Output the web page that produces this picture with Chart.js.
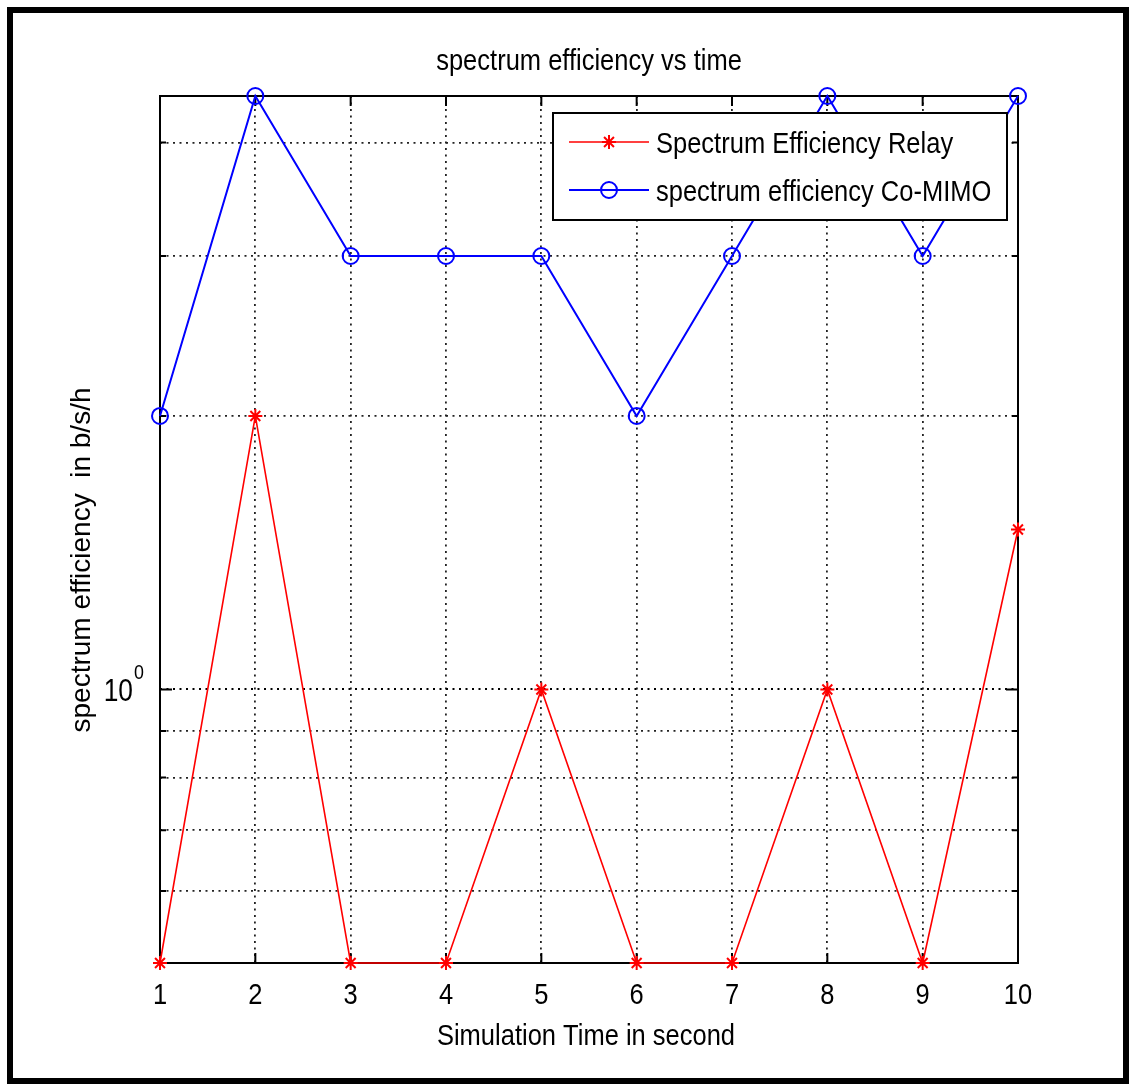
<!DOCTYPE html>
<html>
<head>
<meta charset="utf-8">
<title>spectrum efficiency vs time</title>
<script src="https://cdn.jsdelivr.net/npm/chart.js@4.4.1/dist/chart.umd.min.js"></script>
<style>
  html, body { margin: 0; padding: 0; background: #fff; }
  #chart { display: block; }
</style>
</head>
<body>
<canvas id="chart" width="1129" height="1084"></canvas>
<script>
// ---- data ----
const timeSteps = [1, 2, 3, 4, 5, 6, 7, 8, 9, 10];
const relayEff = [0.5, 2, 0.5, 0.5, 1, 0.5, 0.5, 1, 0.5, 1.5];
const coMimoEff = [2, 4.5, 3, 3, 3, 2, 3, 4.5, 3, 4.5];

const xTicks = [1, 2, 3, 4, 5, 6, 7, 8, 9, 10];
const xTickLabels = ['1', '2', '3', '4', '5', '6', '7', '8', '9', '10'];
const yGridValues = [0.5, 0.6, 0.7, 0.8, 0.9, 1, 2, 3, 4, 4.5];
const yMajorValues = [1];
const yTickBase = ['10'];
const yTickExp = ['0'];

const titleText = 'spectrum efficiency vs time';
const xTitleText = 'Simulation Time in second';
const yTitleText = 'spectrum efficiency  in b/s/h';

// MATLAB text is a narrow helvetica: use the narrow face if present, otherwise squeeze Liberation Sans
function fontAvailable(name) {
  const c = document.createElement('canvas').getContext('2d');
  const sample = 'spectrum efficiency 0123456789';
  c.font = '40px monospace';
  const base = c.measureText(sample).width;
  c.font = `40px "${name}", monospace`;
  return c.measureText(sample).width !== base;
}
const narrow = fontAvailable('Liberation Sans Narrow');
const family = narrow ? '"Liberation Sans Narrow", sans-serif' : '"Liberation Sans", sans-serif';
const squeeze = narrow ? 1.04 : 0.85;
const fontSize = 30;

function squeezedText(ctx, text, x, y, size, align, baseline) {
  ctx.save();
  ctx.font = `${size}px ${family}`;
  ctx.textAlign = align;
  ctx.textBaseline = baseline || 'alphabetic';
  ctx.translate(x, y);
  ctx.scale(squeeze, 1);
  ctx.fillText(text, 0, 0);
  ctx.restore();
}

function drawStar(ctx, x, y, r) {
  ctx.beginPath();
  for (let a = 0; a < 4; a++) {
    const ang = a * Math.PI / 4;
    ctx.moveTo(x - Math.cos(ang) * r, y - Math.sin(ang) * r);
    ctx.lineTo(x + Math.cos(ang) * r, y + Math.sin(ang) * r);
  }
  ctx.stroke();
}

const matlabLook = {
  id: 'matlabLook',
  beforeDraw(chart) {
    const ctx = chart.ctx;
    ctx.save();
    ctx.fillStyle = '#fff';
    ctx.fillRect(0, 0, chart.width, chart.height);
    ctx.restore();
  },
  beforeDatasetsDraw(chart) {
    const { ctx, chartArea: a, scales: { x, y } } = chart;
    ctx.save();
    ctx.strokeStyle = '#000';
    ctx.lineWidth = 2;
    ctx.strokeRect(a.left, a.top, a.right - a.left, a.bottom - a.top);
    ctx.beginPath();
    xTicks.forEach(v => {
      const px = x.getPixelForValue(v);
      ctx.moveTo(px, a.bottom); ctx.lineTo(px, a.bottom - 10);
      ctx.moveTo(px, a.top); ctx.lineTo(px, a.top + 10);
    });
    yGridValues.forEach(v => {
      const py = y.getPixelForValue(v);
      const len = yMajorValues.includes(v) ? 12 : 6;
      ctx.moveTo(a.left, py); ctx.lineTo(a.left + len, py);
      ctx.moveTo(a.right, py); ctx.lineTo(a.right - len, py);
    });
    ctx.stroke();
    ctx.restore();
  },
  afterDraw(chart) {
    const { ctx, chartArea: a, scales: { x, y } } = chart;
    const cx = (a.left + a.right) / 2;
    ctx.save();
    ctx.fillStyle = '#000';
    squeezedText(ctx, titleText, cx, 70, fontSize, 'center');
    squeezedText(ctx, xTitleText, cx - 3, 1045, fontSize, 'center');

    // x tick labels under the axis
    xTicks.forEach((v, i) => {
      squeezedText(ctx, xTickLabels[i], x.getPixelForValue(v), 1004, fontSize, 'center');
    });

    // y tick label 10^0
    yMajorValues.forEach((v, i) => {
      const py = y.getPixelForValue(v);
      squeezedText(ctx, yTickBase[i], 133, py + 12, 31, 'right');
      squeezedText(ctx, yTickExp[i], 134, py - 10, 21, 'left');
    });

    // rotated y title
    ctx.save();
    ctx.translate(90, 560);
    ctx.rotate(-Math.PI / 2);
    ctx.textAlign = 'center';
    ctx.font = '28px "Liberation Sans", sans-serif';
    ctx.fillText(yTitleText, 0, 0);
    ctx.restore();

    // legend box (MATLAB style, inside the axes)
    const lx = 553, ly = 113, lw = 454, lh = 107;
    ctx.fillStyle = '#fff';
    ctx.fillRect(lx, ly, lw, lh);
    ctx.strokeStyle = '#000';
    ctx.lineWidth = 2;
    ctx.strokeRect(lx, ly, lw, lh);
    const rows = [142, 190];
    chart.data.datasets.forEach((ds, i) => {
      const ry = rows[i];
      ctx.strokeStyle = ds.borderColor;
      ctx.lineWidth = ds.borderWidth;
      ctx.beginPath();
      ctx.moveTo(569, ry); ctx.lineTo(649, ry);
      ctx.stroke();
      ctx.lineWidth = ds.pointBorderWidth;
      if (ds.pointStyle === 'star') {
        drawStar(ctx, 609, ry, ds.pointRadius);
      } else {
        ctx.beginPath();
        ctx.arc(609, ry, ds.pointRadius, 0, Math.PI * 2);
        ctx.stroke();
      }
      ctx.fillStyle = '#000';
      squeezedText(ctx, ds.label, 656, ry + 11, fontSize, 'left');
    });

    // outer black frame of the figure
    ctx.strokeStyle = '#000';
    ctx.lineWidth = 6;
    ctx.strokeRect(10, 10, 1116, 1071);
    ctx.restore();
  }
};

const gridColor = c => (c.tick && yMajorValues.includes(c.tick.value)) ? '#000' : '#222';

new Chart(document.getElementById('chart'), {
  type: 'line',
  data: {
    datasets: [
      {
        label: 'Spectrum Efficiency Relay',
        data: timeSteps.map((t, i) => ({ x: t, y: relayEff[i] })),
        borderColor: '#ff0000',
        backgroundColor: '#ff0000',
        borderWidth: 1.6,
        pointStyle: 'star',
        pointRadius: 7,
        pointBorderWidth: 2,
        pointBorderColor: '#ff0000',
        tension: 0,
        clip: false
      },
      {
        label: 'spectrum efficiency Co-MIMO',
        data: timeSteps.map((t, i) => ({ x: t, y: coMimoEff[i] })),
        borderColor: '#0000ff',
        backgroundColor: 'rgba(0,0,0,0)',
        borderWidth: 2,
        pointStyle: 'circle',
        pointRadius: 8,
        pointBorderWidth: 2,
        pointBorderColor: '#0000ff',
        pointBackgroundColor: 'rgba(0,0,0,0)',
        tension: 0,
        clip: false
      }
    ]
  },
  options: {
    responsive: false,
    devicePixelRatio: 1,
    animation: false,
    events: [],
    layout: { padding: { top: 96, right: 111, bottom: 0, left: 0 } },
    plugins: { legend: { display: false }, title: { display: false }, tooltip: { enabled: false } },
    scales: {
      x: {
        type: 'linear',
        min: 1, max: 10,
        afterFit: s => { s.height = 121; },
        afterBuildTicks: s => { s.ticks = xTicks.map(v => ({ value: v })); },
        ticks: { display: false },
        grid: { color: '#222', lineWidth: 1.8, drawTicks: false },
        border: { display: false, dash: [2, 4.5] }
      },
      y: {
        type: 'logarithmic',
        min: 0.5, max: 4.5,
        afterFit: s => { s.width = 160; },
        afterBuildTicks: s => { s.ticks = yGridValues.map(v => ({ value: v })); },
        ticks: { display: false },
        grid: { color: gridColor, lineWidth: c => (c.tick && yMajorValues.includes(c.tick.value)) ? 2 : 1.8, drawTicks: false },
        border: { display: false, dash: [2, 4.5] }
      }
    }
  },
  plugins: [matlabLook]
});
</script>
</body>
</html>
